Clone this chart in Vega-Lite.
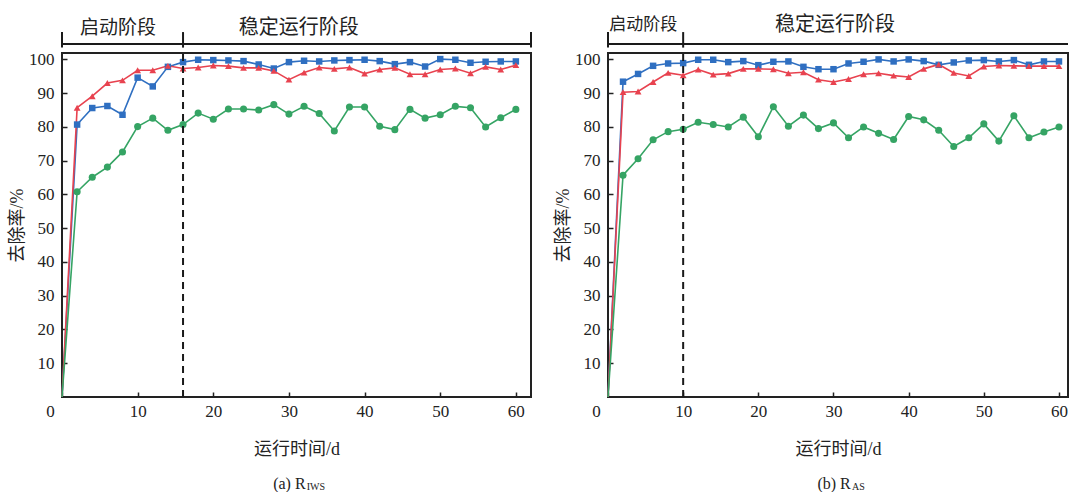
{
  "$schema": "https://vega.github.io/schema/vega-lite/v6.json",
  "background": "white",
  "padding": {"left": 7, "top": 13, "right": 0, "bottom": 0},
  "bounds": "flush",
  "spacing": 77,
  "datasets": {
    "a": [
      {"day":0,"series":"A","rate":0},{"day":2,"series":"A","rate":80.7},{"day":4,"series":"A","rate":85.6},{"day":6,"series":"A","rate":86.2},{"day":8,"series":"A","rate":83.6},{"day":10,"series":"A","rate":94.6},{"day":12,"series":"A","rate":92.0},{"day":14,"series":"A","rate":97.8},{"day":16,"series":"A","rate":99.2},{"day":18,"series":"A","rate":99.9},{"day":20,"series":"A","rate":99.8},{"day":22,"series":"A","rate":99.7},{"day":24,"series":"A","rate":99.5},{"day":26,"series":"A","rate":98.5},{"day":28,"series":"A","rate":97.3},{"day":30,"series":"A","rate":99.2},{"day":32,"series":"A","rate":99.6},{"day":34,"series":"A","rate":99.4},{"day":36,"series":"A","rate":99.7},{"day":38,"series":"A","rate":99.8},{"day":40,"series":"A","rate":99.9},{"day":42,"series":"A","rate":99.5},{"day":44,"series":"A","rate":98.6},{"day":46,"series":"A","rate":99.2},{"day":48,"series":"A","rate":97.9},{"day":50,"series":"A","rate":100.1},{"day":52,"series":"A","rate":99.9},{"day":54,"series":"A","rate":99.0},{"day":56,"series":"A","rate":99.3},{"day":58,"series":"A","rate":99.4},{"day":60,"series":"A","rate":99.4},
      {"day":0,"series":"B","rate":0},{"day":2,"series":"B","rate":85.7},{"day":4,"series":"B","rate":89.1},{"day":6,"series":"B","rate":93.0},{"day":8,"series":"B","rate":93.8},{"day":10,"series":"B","rate":96.8},{"day":12,"series":"B","rate":96.8},{"day":14,"series":"B","rate":98.1},{"day":16,"series":"B","rate":97.3},{"day":18,"series":"B","rate":97.6},{"day":20,"series":"B","rate":98.2},{"day":22,"series":"B","rate":98.0},{"day":24,"series":"B","rate":97.5},{"day":26,"series":"B","rate":97.5},{"day":28,"series":"B","rate":96.6},{"day":30,"series":"B","rate":94.0},{"day":32,"series":"B","rate":96.1},{"day":34,"series":"B","rate":97.6},{"day":36,"series":"B","rate":97.2},{"day":38,"series":"B","rate":97.6},{"day":40,"series":"B","rate":95.8},{"day":42,"series":"B","rate":97.0},{"day":44,"series":"B","rate":97.5},{"day":46,"series":"B","rate":95.6},{"day":48,"series":"B","rate":95.6},{"day":50,"series":"B","rate":97.0},{"day":52,"series":"B","rate":97.3},{"day":54,"series":"B","rate":95.9},{"day":56,"series":"B","rate":97.8},{"day":58,"series":"B","rate":97.0},{"day":60,"series":"B","rate":98.3},
      {"day":0,"series":"C","rate":0},{"day":2,"series":"C","rate":60.8},{"day":4,"series":"C","rate":65.1},{"day":6,"series":"C","rate":68.1},{"day":8,"series":"C","rate":72.6},{"day":10,"series":"C","rate":80.1},{"day":12,"series":"C","rate":82.6},{"day":14,"series":"C","rate":79.0},{"day":16,"series":"C","rate":80.7},{"day":18,"series":"C","rate":84.1},{"day":20,"series":"C","rate":82.3},{"day":22,"series":"C","rate":85.3},{"day":24,"series":"C","rate":85.3},{"day":26,"series":"C","rate":85.0},{"day":28,"series":"C","rate":86.6},{"day":30,"series":"C","rate":83.8},{"day":32,"series":"C","rate":86.1},{"day":34,"series":"C","rate":84.0},{"day":36,"series":"C","rate":78.8},{"day":38,"series":"C","rate":85.9},{"day":40,"series":"C","rate":85.9},{"day":42,"series":"C","rate":80.2},{"day":44,"series":"C","rate":79.2},{"day":46,"series":"C","rate":85.2},{"day":48,"series":"C","rate":82.6},{"day":50,"series":"C","rate":83.6},{"day":52,"series":"C","rate":86.1},{"day":54,"series":"C","rate":85.7},{"day":56,"series":"C","rate":80.0},{"day":58,"series":"C","rate":82.7},{"day":60,"series":"C","rate":85.2}
    ],
    "b": [
      {"day":0,"series":"A","rate":0},{"day":2,"series":"A","rate":93.4},{"day":4,"series":"A","rate":95.7},{"day":6,"series":"A","rate":98.1},{"day":8,"series":"A","rate":98.8},{"day":10,"series":"A","rate":98.9},{"day":12,"series":"A","rate":99.9},{"day":14,"series":"A","rate":99.9},{"day":16,"series":"A","rate":99.2},{"day":18,"series":"A","rate":99.5},{"day":20,"series":"A","rate":98.3},{"day":22,"series":"A","rate":99.3},{"day":24,"series":"A","rate":99.4},{"day":26,"series":"A","rate":97.8},{"day":28,"series":"A","rate":97.1},{"day":30,"series":"A","rate":97.1},{"day":32,"series":"A","rate":98.8},{"day":34,"series":"A","rate":99.3},{"day":36,"series":"A","rate":100.0},{"day":38,"series":"A","rate":99.4},{"day":40,"series":"A","rate":100.0},{"day":42,"series":"A","rate":99.5},{"day":44,"series":"A","rate":98.4},{"day":46,"series":"A","rate":99.1},{"day":48,"series":"A","rate":99.7},{"day":50,"series":"A","rate":99.8},{"day":52,"series":"A","rate":99.4},{"day":54,"series":"A","rate":99.8},{"day":56,"series":"A","rate":98.4},{"day":58,"series":"A","rate":99.4},{"day":60,"series":"A","rate":99.4},
      {"day":0,"series":"B","rate":0},{"day":2,"series":"B","rate":90.3},{"day":4,"series":"B","rate":90.5},{"day":6,"series":"B","rate":93.3},{"day":8,"series":"B","rate":96.0},{"day":10,"series":"B","rate":95.3},{"day":12,"series":"B","rate":97.0},{"day":14,"series":"B","rate":95.5},{"day":16,"series":"B","rate":95.8},{"day":18,"series":"B","rate":97.2},{"day":20,"series":"B","rate":97.2},{"day":22,"series":"B","rate":97.1},{"day":24,"series":"B","rate":95.9},{"day":26,"series":"B","rate":96.2},{"day":28,"series":"B","rate":94.0},{"day":30,"series":"B","rate":93.3},{"day":32,"series":"B","rate":94.2},{"day":34,"series":"B","rate":95.6},{"day":36,"series":"B","rate":95.9},{"day":38,"series":"B","rate":95.2},{"day":40,"series":"B","rate":94.8},{"day":42,"series":"B","rate":97.2},{"day":44,"series":"B","rate":98.5},{"day":46,"series":"B","rate":96.0},{"day":48,"series":"B","rate":95.1},{"day":50,"series":"B","rate":97.9},{"day":52,"series":"B","rate":98.2},{"day":54,"series":"B","rate":98.1},{"day":56,"series":"B","rate":98.0},{"day":58,"series":"B","rate":98.0},{"day":60,"series":"B","rate":98.0},
      {"day":0,"series":"C","rate":0},{"day":2,"series":"C","rate":65.7},{"day":4,"series":"C","rate":70.6},{"day":6,"series":"C","rate":76.2},{"day":8,"series":"C","rate":78.6},{"day":10,"series":"C","rate":79.3},{"day":12,"series":"C","rate":81.4},{"day":14,"series":"C","rate":80.7},{"day":16,"series":"C","rate":80.0},{"day":18,"series":"C","rate":82.9},{"day":20,"series":"C","rate":77.1},{"day":22,"series":"C","rate":86.0},{"day":24,"series":"C","rate":80.2},{"day":26,"series":"C","rate":83.5},{"day":28,"series":"C","rate":79.5},{"day":30,"series":"C","rate":81.2},{"day":32,"series":"C","rate":76.8},{"day":34,"series":"C","rate":80.0},{"day":36,"series":"C","rate":78.1},{"day":38,"series":"C","rate":76.3},{"day":40,"series":"C","rate":83.1},{"day":42,"series":"C","rate":82.1},{"day":44,"series":"C","rate":79.0},{"day":46,"series":"C","rate":74.2},{"day":48,"series":"C","rate":76.8},{"day":50,"series":"C","rate":80.9},{"day":52,"series":"C","rate":75.8},{"day":54,"series":"C","rate":83.3},{"day":56,"series":"C","rate":76.8},{"day":58,"series":"C","rate":78.5},{"day":60,"series":"C","rate":80.0}
    ]
  },
  "hconcat": [
    {
      "width": 469,
      "height": 344,
      "layer": [
        {
          "data": {"name": "a"},
          "mark": {"type": "line", "strokeWidth": 1.6},
          "encoding": {
            "x": {"field": "day", "type": "quantitative", "scale": {"domain": [0, 62], "nice": false, "zero": false},
                  "axis": {"values": [0,10,20,30,40,50,60], "tickCount": 20, "title": "运行时间/d", "labelFlush": false, "labelOverlap": false,
                           "labelOffset": {"condition": {"test": "datum.value === 0", "value": -12}, "value": 0}}},
            "y": {"field": "rate", "type": "quantitative", "scale": {"domain": [0, 101.9], "nice": false, "zero": false},
                  "axis": {"values": [10,20,30,40,50,60,70,80,90,100], "tickCount": 20, "title": "去除率/%", "labelOverlap": false}},
            "color": {"field": "series", "type": "nominal", "scale": {"domain": ["A","B","C"], "range": ["#2f6fc1","#e8424f","#35a464"]}, "legend": null},
            "detail": {"field": "series"}
          }
        },
        {
          "data": {"name": "a"},
          "transform": [{"filter": "datum.day > 0"}],
          "mark": {"type": "point", "filled": true, "opacity": 1},
          "encoding": {
            "x": {"field": "day", "type": "quantitative"},
            "y": {"field": "rate", "type": "quantitative"},
            "color": {"field": "series", "type": "nominal", "legend": null},
            "shape": {"field": "series", "type": "nominal", "scale": {"domain": ["A","B","C"], "range": ["square","triangle-up","circle"]}, "legend": null},
            "size": {"field": "series", "type": "ordinal", "scale": {"domain": ["A","B","C"], "range": [42, 50, 60]}, "legend": null}
          }
        },
        {
          "data": {"values": [{"day": 16}]},
          "mark": {"type": "rule", "strokeDash": [7, 5], "strokeWidth": 2, "color": "#1a1a1a"},
          "encoding": {
            "x": {"field": "day", "type": "quantitative"},
            "y": {"datum": 0, "type": "quantitative"},
            "y2": {"datum": 101.9}
          }
        },
        {
          "data": {"values": [{"start": 0, "end": 62}]},
          "mark": {"type": "rule", "strokeWidth": 2, "color": "#1a1a1a"},
          "encoding": {
            "x": {"field": "start", "type": "quantitative"},
            "x2": {"field": "end"},
            "y": {"datum": 104.6, "type": "quantitative"}
          }
        },
        {
          "data": {"values": [{"day": 0}, {"day": 16}, {"day": 62}]},
          "mark": {"type": "rule", "strokeWidth": 2, "color": "#1a1a1a"},
          "encoding": {
            "x": {"field": "day", "type": "quantitative"},
            "y": {"datum": 103.5, "type": "quantitative"},
            "y2": {"datum": 108.1}
          }
        },
        {
          "data": {"values": [{}]},
          "mark": {"type": "text", "text": "启动阶段", "font": "Noto Sans CJK SC", "fontSize": 19, "color": "#222", "baseline": "middle"},
          "encoding": {"x": {"datum": 7.4, "type": "quantitative"}, "y": {"datum": 109.4, "type": "quantitative"}}
        },
        {
          "data": {"values": [{}]},
          "mark": {"type": "text", "text": "稳定运行阶段", "font": "Noto Sans CJK SC", "fontSize": 20, "color": "#222", "baseline": "middle"},
          "encoding": {"x": {"datum": 31.3, "type": "quantitative"}, "y": {"datum": 109.4, "type": "quantitative"}}
        },
        {
          "data": {"values": [{}]},
          "mark": {"type": "text", "text": "(a) R", "font": "Liberation Serif", "fontSize": 16, "color": "#222", "baseline": "middle", "align": "right"},
          "encoding": {"x": {"datum": 32.2, "type": "quantitative"}, "y": {"datum": -25.9, "type": "quantitative"}}
        },
        {
          "data": {"values": [{}]},
          "mark": {"type": "text", "text": "IWS", "font": "Liberation Serif", "fontSize": 10, "color": "#222", "baseline": "middle", "align": "left"},
          "encoding": {"x": {"datum": 32.35, "type": "quantitative"}, "y": {"datum": -26.8, "type": "quantitative"}}
        }
      ]
    },
    {
      "width": 460,
      "height": 344,
      "layer": [
        {
          "data": {"name": "b"},
          "mark": {"type": "line", "strokeWidth": 1.6},
          "encoding": {
            "x": {"field": "day", "type": "quantitative", "scale": {"domain": [0, 61.2], "nice": false, "zero": false},
                  "axis": {"values": [0,10,20,30,40,50,60], "tickCount": 20, "title": "运行时间/d", "labelFlush": false, "labelOverlap": false,
                           "labelOffset": {"condition": {"test": "datum.value === 0", "value": -12}, "value": 0}}},
            "y": {"field": "rate", "type": "quantitative", "scale": {"domain": [0, 101.9], "nice": false, "zero": false},
                  "axis": {"values": [10,20,30,40,50,60,70,80,90,100], "tickCount": 20, "title": "去除率/%", "labelOverlap": false}},
            "color": {"field": "series", "type": "nominal", "scale": {"domain": ["A","B","C"], "range": ["#2f6fc1","#e8424f","#35a464"]}, "legend": null},
            "detail": {"field": "series"}
          }
        },
        {
          "data": {"name": "b"},
          "transform": [{"filter": "datum.day > 0"}],
          "mark": {"type": "point", "filled": true, "opacity": 1},
          "encoding": {
            "x": {"field": "day", "type": "quantitative"},
            "y": {"field": "rate", "type": "quantitative"},
            "color": {"field": "series", "type": "nominal", "legend": null},
            "shape": {"field": "series", "type": "nominal", "scale": {"domain": ["A","B","C"], "range": ["square","triangle-up","circle"]}, "legend": null},
            "size": {"field": "series", "type": "ordinal", "scale": {"domain": ["A","B","C"], "range": [42, 50, 60]}, "legend": null}
          }
        },
        {
          "data": {"values": [{"day": 10}]},
          "mark": {"type": "rule", "strokeDash": [7, 5], "strokeWidth": 2, "color": "#1a1a1a"},
          "encoding": {
            "x": {"field": "day", "type": "quantitative"},
            "y": {"datum": 0, "type": "quantitative"},
            "y2": {"datum": 101.9}
          }
        },
        {
          "data": {"values": [{"start": 0, "end": 61.2}]},
          "mark": {"type": "rule", "strokeWidth": 2, "color": "#1a1a1a"},
          "encoding": {
            "x": {"field": "start", "type": "quantitative"},
            "x2": {"field": "end"},
            "y": {"datum": 104.6, "type": "quantitative"}
          }
        },
        {
          "data": {"values": [{"day": 0}, {"day": 10}]},
          "mark": {"type": "rule", "strokeWidth": 2, "color": "#1a1a1a"},
          "encoding": {
            "x": {"field": "day", "type": "quantitative"},
            "y": {"datum": 103.5, "type": "quantitative"},
            "y2": {"datum": 108.1}
          }
        },
        {
          "data": {"values": [{}]},
          "mark": {"type": "text", "text": "启动阶段", "font": "Noto Sans CJK SC", "fontSize": 17, "color": "#222", "baseline": "middle"},
          "encoding": {"x": {"datum": 4.7, "type": "quantitative"}, "y": {"datum": 110.2, "type": "quantitative"}}
        },
        {
          "data": {"values": [{}]},
          "mark": {"type": "text", "text": "稳定运行阶段", "font": "Noto Sans CJK SC", "fontSize": 20, "color": "#222", "baseline": "middle"},
          "encoding": {"x": {"datum": 30.2, "type": "quantitative"}, "y": {"datum": 110.2, "type": "quantitative"}}
        },
        {
          "data": {"values": [{}]},
          "mark": {"type": "text", "text": "(b) R", "font": "Liberation Serif", "fontSize": 16, "color": "#222", "baseline": "middle", "align": "right"},
          "encoding": {"x": {"datum": 32.3, "type": "quantitative"}, "y": {"datum": -25.9, "type": "quantitative"}}
        },
        {
          "data": {"values": [{}]},
          "mark": {"type": "text", "text": "AS", "font": "Liberation Serif", "fontSize": 10, "color": "#222", "baseline": "middle", "align": "left"},
          "encoding": {"x": {"datum": 32.45, "type": "quantitative"}, "y": {"datum": -26.8, "type": "quantitative"}}
        }
      ]
    }
  ],
  "config": {
    "font": "Liberation Serif, Noto Sans CJK SC",
    "view": {"stroke": "#222", "strokeWidth": 2},
    "axis": {
      "domain": false,
      "grid": false,
      "ticks": true,
      "tickSize": -5,
      "tickWidth": 1.5,
      "tickColor": "#222",
      "labelFont": "Liberation Serif",
      "labelFontSize": 17,
      "labelColor": "#222",
      "labelOverlap": false,
      "titleFont": "Liberation Serif, Noto Sans CJK SC",
      "titleFontSize": 18,
      "titleFontWeight": "normal",
      "titleColor": "#222"
    },
    "axisX": {"labelPadding": 11, "titlePadding": 21},
    "axisY": {"labelPadding": 13, "titlePadding": 2}
  }
}
